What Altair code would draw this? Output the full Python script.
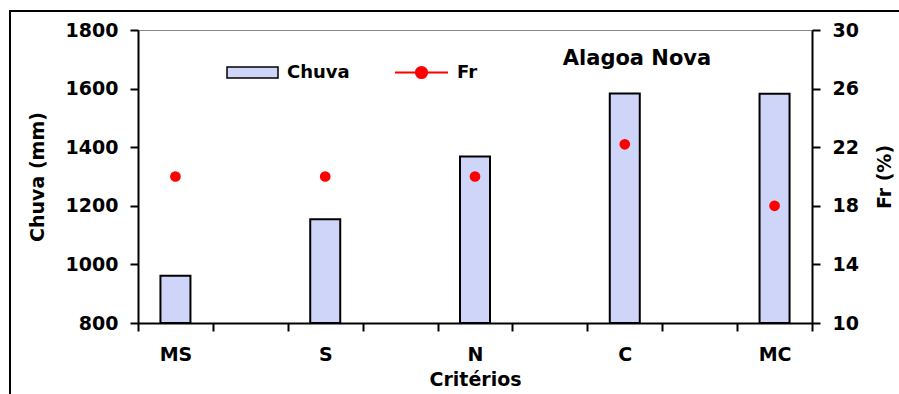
import altair as alt
import pandas as pd

categories = ["MS", "S", "N", "C", "MC"]
# spacer slots between categories (blank labels) as in the original chart
x_domain = ["MS", " ", "S", "  ", "N", "   ", "C", "    ", "MC"]
chuva = [961, 1154, 1368, 1583, 1582]
fr = [20.0, 20.0, 20.0, 22.2, 18.0]
left_ticks = [800, 1000, 1200, 1400, 1600, 1800]
right_ticks = [10, 14, 18, 22, 26, 30]

df = pd.DataFrame({
    "Critérios": categories,
    "Chuva": chuva,
    "Fr": fr,
    "s1": ["Chuva"] * len(categories),
    "s2": ["Fr"] * len(categories),
})

FONT = "DejaVu Sans"

x_enc = alt.X(
    "Critérios:N",
    scale=alt.Scale(domain=x_domain, paddingInner=0, paddingOuter=0),
    axis=alt.Axis(
        title="Critérios", labelAngle=0, tickBand="extent",
        labelFontSize=19, labelFont=FONT, labelFontWeight="bold",
        titleFontSize=19, titleFont=FONT, titleFontWeight="bold",
        labelPadding=14, titlePadding=6, tickSize=8, tickWidth=2,
        domainWidth=2, domainColor="black", tickColor="black",
        labelColor="black", titleColor="black",
    ),
)

bars = alt.Chart(df).mark_bar(size=30, stroke="black", strokeWidth=2, clip=True).encode(
    x=x_enc,
    y=alt.Y(
        "Chuva:Q",
        scale=alt.Scale(domain=[800, 1800], nice=False, zero=False),
        axis=alt.Axis(
            title="Chuva (mm)", values=left_ticks, grid=False, format="d",
            labelFontSize=19, labelFont=FONT, labelFontWeight="bold",
            titleFontSize=19, titleFont=FONT, titleFontWeight="bold",
            labelPadding=12, titlePadding=18, tickSize=8, tickWidth=2,
            domainWidth=2, domainColor="black", tickColor="black",
            labelColor="black", titleColor="black",
        ),
    ),
    y2=alt.datum(800),
    fill=alt.Fill(
        "s1:N",
        scale=alt.Scale(domain=["Chuva"], range=["#cfd5f8"]),
        legend=alt.Legend(
            title=None, orient="none", legendX=88, legendY=16,
            symbolType="M-1,-0.22H1V0.22H-1Z", symbolSize=2601,
            symbolStrokeColor="black", symbolStrokeWidth=1.5,
            labelFontSize=18, labelFont=FONT, labelFontWeight="bold",
            labelColor="black", labelOffset=8, padding=0,
        ),
    ),
)

points = alt.Chart(df).mark_point(filled=True, size=115, opacity=1).encode(
    x=alt.X("Critérios:N", scale=alt.Scale(domain=x_domain, paddingInner=0, paddingOuter=0)),
    y=alt.Y(
        "Fr:Q",
        scale=alt.Scale(domain=[10, 30], nice=False, zero=False),
        axis=alt.Axis(
            title="Fr (%)", orient="right", values=right_ticks, grid=False,
            labelFontSize=19, labelFont=FONT, labelFontWeight="bold",
            titleFontSize=19, titleFont=FONT, titleFontWeight="bold",
            labelPadding=12, titlePadding=36, titleAngle=270, tickSize=8, tickWidth=2,
            domainWidth=2, domainColor="black", tickColor="black",
            labelColor="black", titleColor="black",
        ),
    ),
    color=alt.Color(
        "s2:N",
        scale=alt.Scale(domain=["Fr"], range=["#ff0000"]),
        legend=alt.Legend(
            title=None, orient="none", legendX=256, legendY=15,
            symbolType="M-1,0H1M-0.21,0A0.21,0.21,0,1,1,0.21,0A0.21,0.21,0,1,1,-0.21,0Z",
            symbolSize=2809, symbolStrokeColor="#ff0000", symbolStrokeWidth=2,
            symbolFillColor="#ff0000",
            labelFontSize=18, labelFont=FONT, labelFontWeight="bold",
            labelColor="black", labelOffset=8, padding=0,
        ),
    ),
)

title_txt = alt.Chart(pd.DataFrame({"t": ["Alagoa Nova"]})).mark_text(
    font=FONT, fontSize=21, fontWeight="bold", align="center", baseline="alphabetic",
    color="black",
).encode(text="t:N", x=alt.value(499), y=alt.value(35))

frame = alt.Chart(pd.DataFrame({"a": [0]})).mark_rect(
    fill=None, stroke="black", strokeWidth=2, clip=False
).encode(x=alt.value(-128), x2=alt.value(800), y=alt.value(-19), y2=alt.value(400))

chart = alt.layer(frame, bars, points, title_txt).resolve_scale(
    y="independent"
).properties(
    width=674, height=293,
    autosize=alt.AutoSizeParams(type="none"),
    padding={"left": 138, "top": 30, "right": 87, "bottom": 71},
    background="white",
).configure_view(stroke="#888888", strokeWidth=1)

chart.save("out.html", embed_options={"renderer": "svg", "actions": False})
